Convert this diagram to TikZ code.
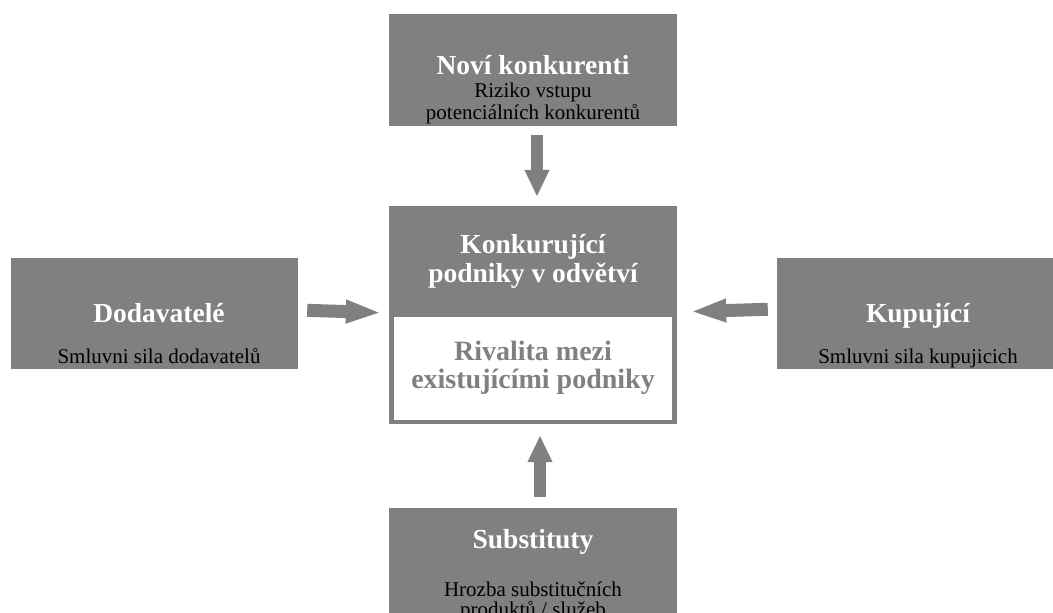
\documentclass[tikz,border=0pt]{standalone}
\usepackage{fontspec}
\setmainfont{Liberation Serif}
\usetikzlibrary{arrows.meta}
\definecolor{boxgray}{HTML}{808080}
\tikzset{
  box/.style={fill=boxgray, draw=none, inner sep=0pt, minimum width=288pt, minimum height=112pt},
  innerbox/.style={fill=white, draw=none, inner sep=0pt, minimum width=278pt, minimum height=103pt},
  ttl/.style={anchor=base, text=white, font=\fontsize{27.5}{30}\selectfont\bfseries, inner sep=0pt},
  subt/.style={anchor=base, text=black, font=\fontsize{21}{23}\selectfont, inner sep=0pt},
  rival/.style={anchor=base, text=boxgray, font=\fontsize{28}{30}\selectfont\bfseries, inner sep=0pt},
  force/.style={draw=boxgray, fill=boxgray, line width=12pt, -{Triangle[width=23pt,length=27pt]}},
}
\begin{document}
\begin{tikzpicture}[x=1pt,y=-1pt]
\clip (0,0) rectangle (1053,613);
\fill[white] (0,0) rectangle (1053,613);

% boxes
\node[box] (new) at (533,70) {};
\node[box, minimum height=218pt] (center) at (533,315) {};
\node[innerbox] (rivalbox) at (533,368.5) {};
\node[box, minimum width=287pt, minimum height=111pt] (supp) at (154.5,313.5) {};
\node[box, minimum width=287pt, minimum height=111pt] (buy) at (920.5,313.5) {};
\node[box] (subst) at (533,564) {};

% texts
\node[ttl] (newT) at (533,74) {Noví konkurenti};
\node[subt] (newS1) at (533,97.5) {Riziko vstupu};
\node[subt] (newS2) at (533,119.5) {potenciálních konkurentů};

\node[ttl] (cenT1) at (533,253) {Konkurující};
\node[ttl] (cenT2) at (533,282) {podniky v odvětví};
\node[rival] (rivT1) at (533,360) {Rivalita mezi};
\node[rival] (rivT2) at (533,388) {existujícími podniky};

\node[ttl] (suppT) at (159,322) {Dodavatelé};
\node[subt] (suppS) at (159,363) {Smluvni sila dodavatelů};

\node[ttl] (buyT) at (918,322) {Kupující};
\node[subt] (buyS) at (918,363) {Smluvni sila kupujicich};

\node[ttl] (substT) at (533,548) {Substituty};
\node[subt] (substS1) at (533,596) {Hrozba substitučních};
\node[subt] (substS2) at (533,616) {produktů / služeb};

% arrows
\draw[force, shorten <=9pt, shorten >=9pt] ([xshift=4pt]new.south) -- ([xshift=4pt]center.north);
\draw[force, shorten <=11pt, shorten >=11pt] ([xshift=7pt]subst.north) -- ([xshift=7pt]center.south);
\draw[force, line width=13pt, -{Triangle[width=21pt,length=36pt]}, shorten <=9pt, shorten >=7pt] ([yshift=3.5pt]supp.east) -- ([yshift=2pt]center.west);
\draw[force, line width=13pt, -{Triangle[width=21pt,length=36pt]}, shorten <=9pt, shorten >=13pt] ([yshift=4.5pt]buy.west) -- ([yshift=3pt]center.east);
\end{tikzpicture}
\end{document}
